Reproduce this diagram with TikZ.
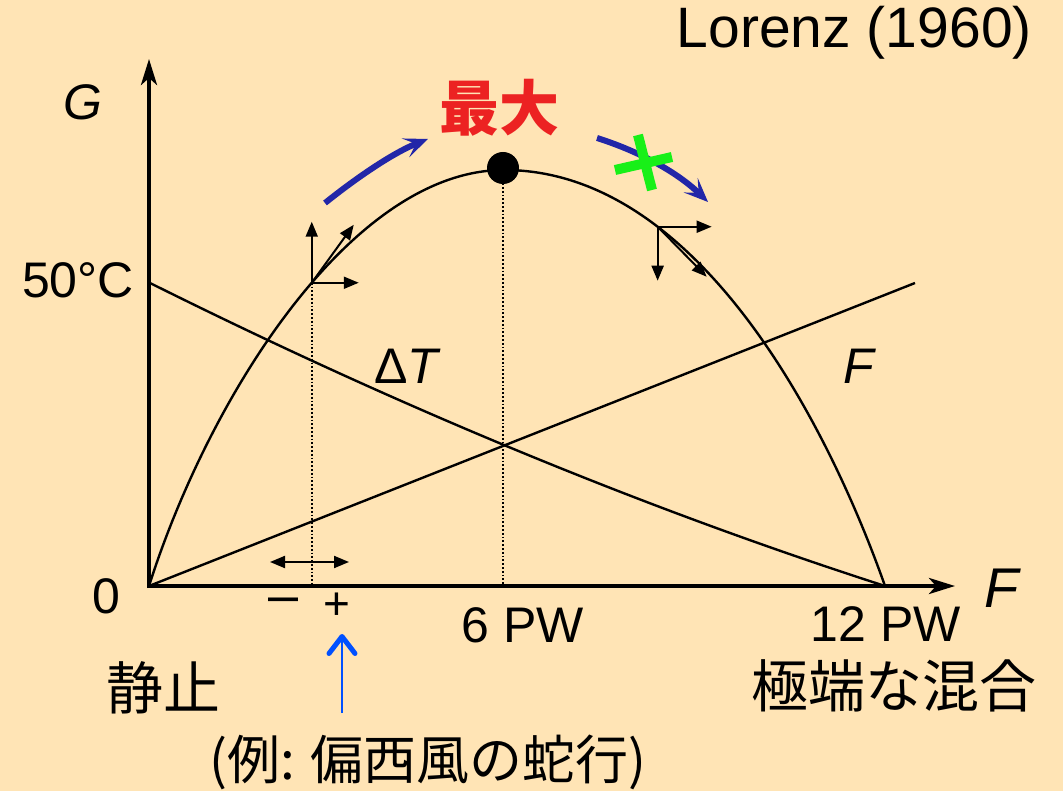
\documentclass[tikz,border=0pt]{standalone}
\usepackage{fontspec}
\setmainfont{Liberation Sans}
\newfontfamily\jp{Noto Sans CJK JP}
\usetikzlibrary{arrows.meta}
\definecolor{bgcream}{RGB}{255,228,181}
\definecolor{arcblue}{RGB}{34,38,168}
\definecolor{markblue}{RGB}{0,80,255}
\definecolor{crossgreen}{RGB}{24,240,24}
\definecolor{maxred}{RGB}{236,34,34}

\begin{document}
\begin{tikzpicture}[x=1pt, y=-1pt,
    axis/.style={line width=4pt, -{Stealth[length=26pt, width=16pt, inset=7pt]}},
    curveline/.style={line width=2.4pt},
    vec/.style={line width=2pt, -{Triangle[length=15pt, width=12pt]}},
    guide/.style={line width=1.8pt, dash pattern=on 1.8pt off 2pt},
    flow/.style={line width=6pt, arcblue, -{Stealth[length=24pt, width=20pt, inset=11pt]}},
    lbl/.style={font=\fontsize{50}{60}\selectfont, inner sep=0pt},
    jlbl/.style={font=\jp\fontsize{57}{66}\selectfont, inner sep=0pt}
]
\useasboundingbox (0,0) rectangle (1063,791);
\fill[bgcream] (0,0) rectangle (1063,791);

% Axes
\coordinate (O) at (149,586);
\coordinate (yTip) at (149,59);
\coordinate (xTip) at (955,586);
\draw[axis] ([yshift=-2pt]O) -- (yTip);
\draw[axis] ([xshift=-2pt]O) -- (xTip);

% Delta T and F lines
\coordinate (t50) at (150,283);
\coordinate (tEnd) at (885,586);
\coordinate (fEnd) at (915,283);
\draw[curveline] (t50) .. controls (395,405) and (640,507) .. (tEnd);
\draw[curveline] (O) -- (fEnd);

% G curve
\draw[curveline] (O) .. controls (210,394) and (353,170) .. (504,170) coordinate[pos=0.55] (P)
                      .. controls (700,170) and (830,430) .. (tEnd) coordinate[pos=0.29] (Q);

% Maximum and guide lines
\node[circle, fill, minimum size=32pt, inner sep=0pt] (peak) at (503,168) {};
\draw[guide] (peak.center) -- (peak |- O);
\draw[guide] (P) -- (P |- O);

% Perturbation vectors
\draw[vec] (P) -- ++(0,-61);
\draw[vec] (P) -- ++(47,0);
\draw[vec] (P) -- ++(42,-58);
\draw[vec] (Q) -- ++(54,0);
\draw[vec] (Q) -- ++(0,54);
\draw[vec] (Q) -- ++(49,50);

\coordinate (dL) at (270,562);
\coordinate (dR) at (349,562);
\draw[line width=2pt, {Triangle[length=15pt, width=12pt]}-{Triangle[length=15pt, width=12pt]}] (dL) -- (dR);

% Tendency arrows
\coordinate (aS) at (325,203);
\coordinate (aE) at (428,139);
\coordinate (bS) at (597,138);
\coordinate (bE) at (708,202);
\draw[flow] (aS) .. controls (360,175) and (395,152) .. (aE);
\draw[flow] (bS) .. controls (635,150) and (675,170) .. (bE);
\coordinate (x1) at (615,170);
\coordinate (x2) at (672,157);
\coordinate (x3) at (638,135);
\coordinate (x4) at (652,190);
\draw[crossgreen, line width=10pt] (x1) -- (x2);
\draw[crossgreen, line width=10pt] (x3) -- (x4);

% Labels
\node[lbl, anchor=east, font=\fontsize{57}{66}\selectfont] (ref) at (1032,33) {Lorenz (1960)};
\node[lbl] (gl) at (83,102) {\textit{G}};
\node[lbl, font=\fontsize{56}{66}\selectfont] (fl) at (1003,588) {\textit{F}};
\node[lbl, anchor=east] (c50) at (134,280) {50°C};
\node[lbl] (zero) at (106,596) {0};
\node[lbl] (dt) at (408,366) {Δ\textit{T}};
\node[lbl] (fline) at (860,366) {\textit{F}};
\node[lbl] (six) at (523,625) {6 PW};
\node[lbl] (twelve) at (886,624) {12 PW};
\node[lbl, font=\fontsize{54}{60}\selectfont] (minus) at (284,606) {–};
\node[lbl, font=\fontsize{46}{52}\selectfont] (plus) at (337,606) {+};
\node[jlbl, text=maxred, font=\jp\bfseries\fontsize{60}{68}\selectfont] (maxl) at (499,108) {最大};
\node[jlbl] (still) at (163,688) {静止};
\node[jlbl] (mix) at (894,686) {極端な混合};
\node[jlbl, font=\jp\fontsize{53}{62}\selectfont] (ex) at (428,762) {(例: 偏西風の蛇行)};

% Example pointer
\coordinate (pB) at (342,713);
\coordinate (pT) at (342,634);
\draw[markblue, line width=2pt, -{Straight Barb[length=17pt, width=26pt, line width=5pt, round]}] (pB) -- (pT);

\end{tikzpicture}
\end{document}
